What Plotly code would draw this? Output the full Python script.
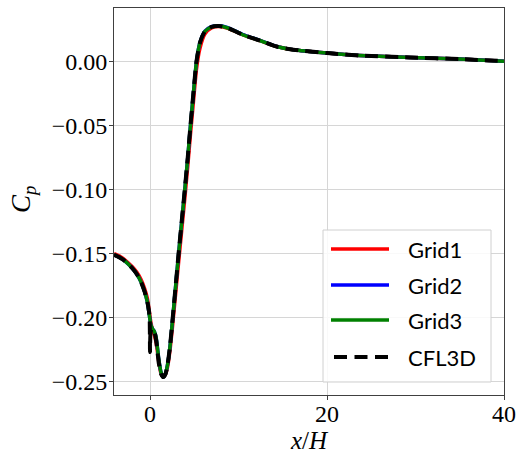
import plotly.graph_objects as go

# ---------------- data ----------------
CFL3D_X = [-4.07, -3.5, -3.0, -2.5, -2.0, -1.5, -1.0, -0.6, -0.3, -0.12, -0.04, 0.0, 0.04,
           0.15, 0.35, 0.55, 0.75, 1.0, 1.25, 1.5, 1.75, 2.0, 2.25, 2.57, 2.9, 3.23, 3.58,
           3.93, 4.25, 4.57, 4.9, 5.25, 5.63, 6.2, 6.95, 7.8, 8.8, 10.5, 12.5, 14.3, 16.2,
           20, 23.7, 29.4, 35, 40]
CFL3D_CP = [-0.151, -0.1528, -0.155, -0.158, -0.1615, -0.166, -0.1725, -0.180, -0.188, -0.195,
            -0.200, -0.227, -0.214, -0.209, -0.2095, -0.2125, -0.221, -0.236, -0.244, -0.2465,
            -0.244, -0.236, -0.223, -0.200, -0.175, -0.150, -0.125, -0.100, -0.076, -0.050,
            -0.025, 0.000, 0.0144, 0.0235, 0.0270, 0.0277, 0.0262, 0.0209, 0.0162, 0.0117,
            0.0092, 0.0066, 0.0047, 0.0031, 0.0019, 0.0003]

GRID_X = [-4.07, -3.5, -3.0, -2.5, -2.0, -1.5, -1.0, -0.6, -0.3, -0.1, 0.1, 0.3, 0.5, 0.7,
          1.0, 1.25, 1.5, 1.75, 2.0, 2.25, 2.57, 2.9, 3.23, 3.58, 3.93, 4.25, 4.57, 4.9, 5.25,
          5.63, 6.2, 6.95, 7.8, 8.8, 10.5, 12.5, 14.3, 16.2, 20, 23.7, 29.4, 35, 40]
GRID1_CP = [-0.150, -0.1518, -0.154, -0.157, -0.1603, -0.1645, -0.1705, -0.1775, -0.185, -0.194,
            -0.204, -0.210, -0.214, -0.220, -0.235, -0.244, -0.2465, -0.2445, -0.238, -0.226,
            -0.205, -0.181, -0.157, -0.132, -0.107, -0.083, -0.057, -0.032, -0.006, 0.010,
            0.0215, 0.0262, 0.0273, 0.0260, 0.0208, 0.0161, 0.0117, 0.0092, 0.0066, 0.0047,
            0.0031, 0.0019, 0.0003]
GRID2_CP = [-0.151, -0.1528, -0.155, -0.158, -0.1615, -0.166, -0.1725, -0.180, -0.188, -0.197,
            -0.206, -0.209, -0.211, -0.216, -0.233, -0.243, -0.2465, -0.244, -0.236, -0.223,
            -0.200, -0.175, -0.150, -0.125, -0.100, -0.076, -0.050, -0.025, 0.000, 0.0146,
            0.0238, 0.0273, 0.0280, 0.0265, 0.0211, 0.0163, 0.0118, 0.0092, 0.0066, 0.0047,
            0.0031, 0.0019, 0.0003]
GRID3_CP = [-0.151, -0.1528, -0.155, -0.158, -0.1615, -0.166, -0.1725, -0.180, -0.188, -0.197,
            -0.206, -0.209, -0.211, -0.216, -0.233, -0.243, -0.2465, -0.244, -0.236, -0.223,
            -0.200, -0.175, -0.150, -0.125, -0.100, -0.076, -0.050, -0.025, 0.000, 0.0144,
            0.0235, 0.0270, 0.0277, 0.0262, 0.0209, 0.0162, 0.0117, 0.0092, 0.0066, 0.0047,
            0.0031, 0.0019, 0.0003]

SERIES_NAMES = ["Grid1", "Grid2", "Grid3", "CFL3D"]
SERIES_COLORS = ["#ff0000", "#0000ff", "#008000", "#000000"]

X_TICKS = [0, 20, 40]
X_TICKTEXT = ["0", "20", "40"]
Y_TICKS = [0.0, -0.05, -0.10, -0.15, -0.20, -0.25]
Y_TICKTEXT = ["0.00", "\u22120.05", "\u22120.10", "\u22120.15", "\u22120.20", "\u22120.25"]

# ---------------- figure ----------------
W, H = 516, 456
L, R, T, B = 114, 12, 8, 61
PW, PH = W - L - R, H - T - B


def px(xp):
    return (xp - L) / PW


def py(yp):
    return (H - B - yp) / PH


fig = go.Figure()
series = [(GRID_X, GRID1_CP), (GRID_X, GRID2_CP), (GRID_X, GRID3_CP), (CFL3D_X, CFL3D_CP)]
for (xs, ys), name, col in zip(series, SERIES_NAMES, SERIES_COLORS):
    dash = "13px,7px" if name == "CFL3D" else "solid"
    width = 4 if name == "CFL3D" else 3.5
    fig.add_trace(go.Scatter(x=xs, y=ys, mode="lines", name=name, showlegend=False,
                             line=dict(color=col, width=width, dash=dash,
                                       shape="spline", smoothing=0.6)))

serif = "Liberation Serif"
axis_common = dict(showline=True, linecolor="#404040", linewidth=1, mirror=True,
                   ticks="outside", ticklen=4, tickwidth=1, tickcolor="#404040",
                   showgrid=True, gridcolor="#d6d6d6", gridwidth=1, zeroline=False,
                   tickfont=dict(family=serif, size=24, color="#000000"))
fig.update_xaxes(range=[-4.07, 40], tickvals=X_TICKS, ticktext=X_TICKTEXT,
                 ticklabelstandoff=-7, **axis_common)
fig.update_yaxes(range=[-0.2605, 0.0418], tickvals=Y_TICKS, ticktext=Y_TICKTEXT,
                 ticklabelstandoff=-3, **axis_common)

shapes = []
annotations = []
# legend box
shapes.append(dict(type="rect", xref="paper", yref="paper", x0=px(323), x1=px(491),
                   y0=py(382), y1=py(230), line=dict(color="#d0d0d0", width=1),
                   fillcolor="rgba(255,255,255,0.85)", layer="above"))
leg_y = [249, 285, 320, 357]
for name, col, yy in zip(SERIES_NAMES, SERIES_COLORS, leg_y):
    if name == "CFL3D":
        shapes.append(dict(type="line", xref="paper", yref="paper", x0=px(334), x1=px(389),
                           y0=py(yy), y1=py(yy), layer="above",
                           line=dict(color=col, width=4, dash="13px,7.5px")))
    else:
        shapes.append(dict(type="line", xref="paper", yref="paper", x0=px(331), x1=px(389),
                           y0=py(yy), y1=py(yy), layer="above",
                           line=dict(color=col, width=3.5)))
    annotations.append(dict(xref="paper", yref="paper", x=px(406), y=py(yy), text=name,
                            showarrow=False, xanchor="left", yanchor="middle",
                            font=dict(family="Lato", size=22, color="#000000")))

# axis titles
annotations.append(dict(xref="paper", yref="paper", x=0.5, y=py(440),
                        text="<i>x</i>/<i>H</i>", showarrow=False,
                        xanchor="center", yanchor="middle",
                        font=dict(family=serif, size=25, color="#000000")))
annotations.append(dict(xref="paper", yref="paper", x=px(23), y=py(200),
                        text="<i>C</i><sub><i>p</i></sub>", showarrow=False, textangle=-90,
                        xanchor="center", yanchor="middle",
                        font=dict(family=serif, size=27, color="#000000")))

fig.update_layout(width=W, height=H, margin=dict(l=L, r=R, t=T, b=B, autoexpand=False),
                  paper_bgcolor="white", plot_bgcolor="white", showlegend=False,
                  shapes=shapes, annotations=annotations)

fig.write_html("out.html")
